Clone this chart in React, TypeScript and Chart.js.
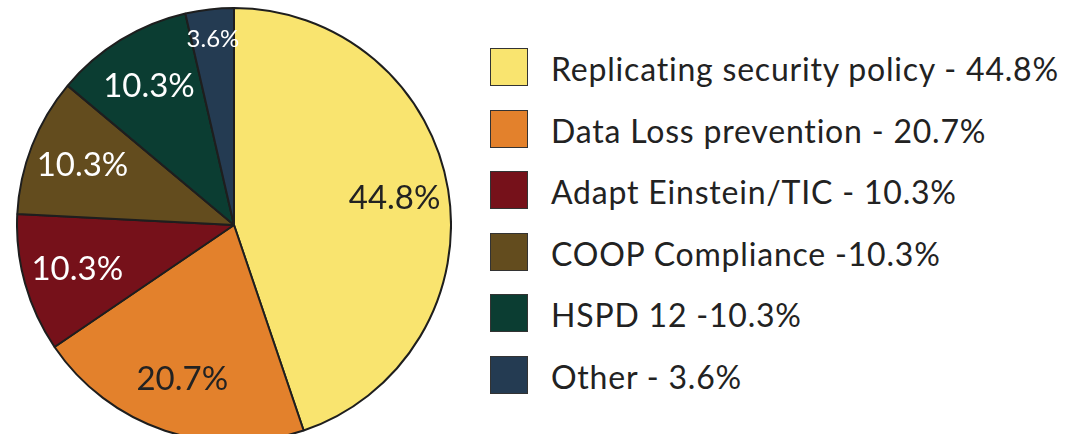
import React, { useEffect, useRef } from "react";
import { Chart, registerables } from "chart.js";

Chart.register(...registerables);

const categories = [
  "Replicating security policy",
  "Data Loss prevention",
  "Adapt Einstein/TIC",
  "COOP Compliance",
  "HSPD 12",
  "Other",
];
const values = [44.8, 20.7, 10.3, 10.3, 10.3, 3.6];
const legendLabels = [
  "Replicating security policy - 44.8%",
  "Data Loss prevention - 20.7%",
  "Adapt Einstein/TIC - 10.3%",
  "COOP Compliance -10.3%",
  "HSPD 12 -10.3%",
  "Other - 3.6%",
];
const colors = ["#F9E46F", "#E3812C", "#76111A", "#634C1E", "#0B3D32", "#243B52"];
const labelColors = ["#222222", "#222222", "#FFFFFF", "#FFFFFF", "#FFFFFF", "#FFFFFF"];

const FONT = "Lato, 'Noto Sans', sans-serif";

const sliceLabels = {
  id: "sliceLabels",
  afterDatasetsDraw(chart: any) {
    const ctx = chart.ctx;
    const meta = chart.getDatasetMeta(0);
    meta.data.forEach((arc: any, i: number) => {
      const { x, y, startAngle, endAngle, outerRadius } = arc.getProps(
        ["x", "y", "startAngle", "endAngle", "outerRadius"],
        true
      );
      const v = values[i];
      const small = v < 5;
      const mid = (startAngle + endAngle) / 2;
      const r = outerRadius * (small ? 0.86 : 0.75);
      ctx.save();
      ctx.fillStyle = labelColors[i];
      ctx.font = `${small ? 24 : 33}px ${FONT}`;
      ctx.textAlign = "center";
      ctx.textBaseline = "middle";
      ctx.fillText(`${v.toFixed(1)}%`, x + Math.cos(mid) * r, y + Math.sin(mid) * r);
      ctx.restore();
    });
  },
};

export default function App() {
  const ref = useRef<HTMLCanvasElement>(null);
  useEffect(() => {
    if (!ref.current) return;
    const chart = new Chart(ref.current, {
      type: "pie",
      data: {
        labels: categories,
        datasets: [
          {
            data: values,
            backgroundColor: colors,
            borderColor: "#1E1E1E",
            borderWidth: 2,
          },
        ],
      },
      options: {
        responsive: false,
        animation: false,
        layout: { padding: 0 },
        plugins: {
          legend: { display: false },
          tooltip: { enabled: false },
        },
      },
      plugins: [sliceLabels],
    });
    return () => chart.destroy();
  }, []);

  return (
    <div
      style={{
        position: "fixed",
        left: 0,
        top: 0,
        width: 1076,
        height: 434,
        overflow: "hidden",
        background: "#FFFFFF",
        fontFamily: FONT,
      }}
    >
      <div style={{ position: "absolute", left: 16, top: 7, width: 436, height: 436 }}>
        <canvas ref={ref} width={436} height={436} style={{ width: 436, height: 436 }} />
      </div>
      {legendLabels.map((t, i) => (
        <div
          key={t}
          style={{
            position: "absolute",
            left: 490,
            top: 67 + i * 61.5 - 25,
            height: 50,
            display: "flex",
            alignItems: "center",
            whiteSpace: "nowrap",
          }}
        >
          <div
            style={{
              width: 36,
              height: 36,
              background: colors[i],
              border: "1.5px solid #333",
              marginRight: 23,
              flex: "none",
            }}
          />
          <span
            style={{
              fontSize: 32,
              letterSpacing: 0.8,
              color: "#222",
              lineHeight: "50px",
              position: "relative",
              top: 2,
            }}
          >
            {t}
          </span>
        </div>
      ))}
    </div>
  );
}
